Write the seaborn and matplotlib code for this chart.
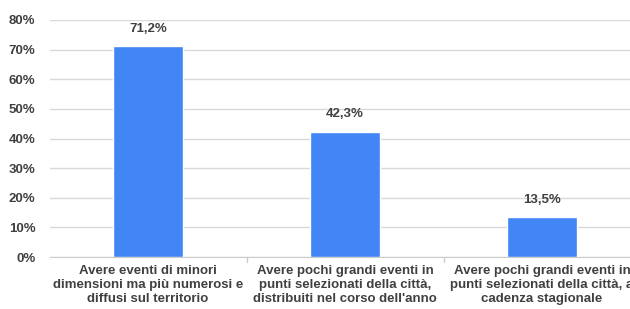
import seaborn as sns
import matplotlib.pyplot as plt
import pandas as pd

# dati
categorie = [
    "Avere eventi di minori\ndimensioni ma più numerosi e\ndiffusi sul territorio",
    "Avere pochi grandi eventi in\npunti selezionati della città,\ndistribuiti nel corso dell'anno",
    "Avere pochi grandi eventi in\npunti selezionati della città, a\ncadenza stagionale",
]
valori = [71.2, 42.3, 13.5]
etichette = ["71,2%", "42,3%", "13,5%"]
yticks = [0, 10, 20, 30, 40, 50, 60, 70, 80]

df = pd.DataFrame({"categoria": categorie, "valore": valori})

sns.set_style("white")
plt.rcParams["font.family"] = ["Liberation Sans", "DejaVu Sans"]

fig = plt.figure(figsize=(6.3, 3.09), dpi=100)
ax = fig.add_axes([49.5 / 630, 52 / 309, 591 / 630, 237 / 309])

sns.barplot(data=df, x="categoria", y="valore", color="#4285f4",
            width=0.355, saturation=1, ax=ax, zorder=3)

ax.set_ylim(0, 80)
ax.set_xlim(-0.5, 2.5)
ax.set_yticks(yticks)
ax.set_yticklabels([f"{t}%" for t in yticks], fontsize=9.5, fontweight="bold", color="#404040")
ax.grid(axis="y", color="#d9d9d9", linewidth=1, zorder=0)
for s in ["top", "right", "left"]:
    ax.spines[s].set_visible(False)
ax.spines["bottom"].set_color("#cccccc")
ax.tick_params(axis="y", length=0, pad=10)

ax.set_xticks([0, 1, 2])
ax.set_xticklabels(categorie, fontsize=9.5, fontweight="bold", color="#404040", linespacing=1.2)
ax.tick_params(axis="x", length=0, pad=6)
for xb in [0.5, 1.5]:
    ax.plot([xb, xb], [0, -1.6], color="#cccccc", lw=1, clip_on=False)
ax.set_xlabel("")
ax.set_ylabel("")

for i, (v, t) in enumerate(zip(valori, etichette)):
    ax.text(i, v + 3.8, t, ha="center", va="bottom", fontsize=9.5,
            fontweight="bold", color="#404040")

fig.savefig("out.png", dpi=100)
